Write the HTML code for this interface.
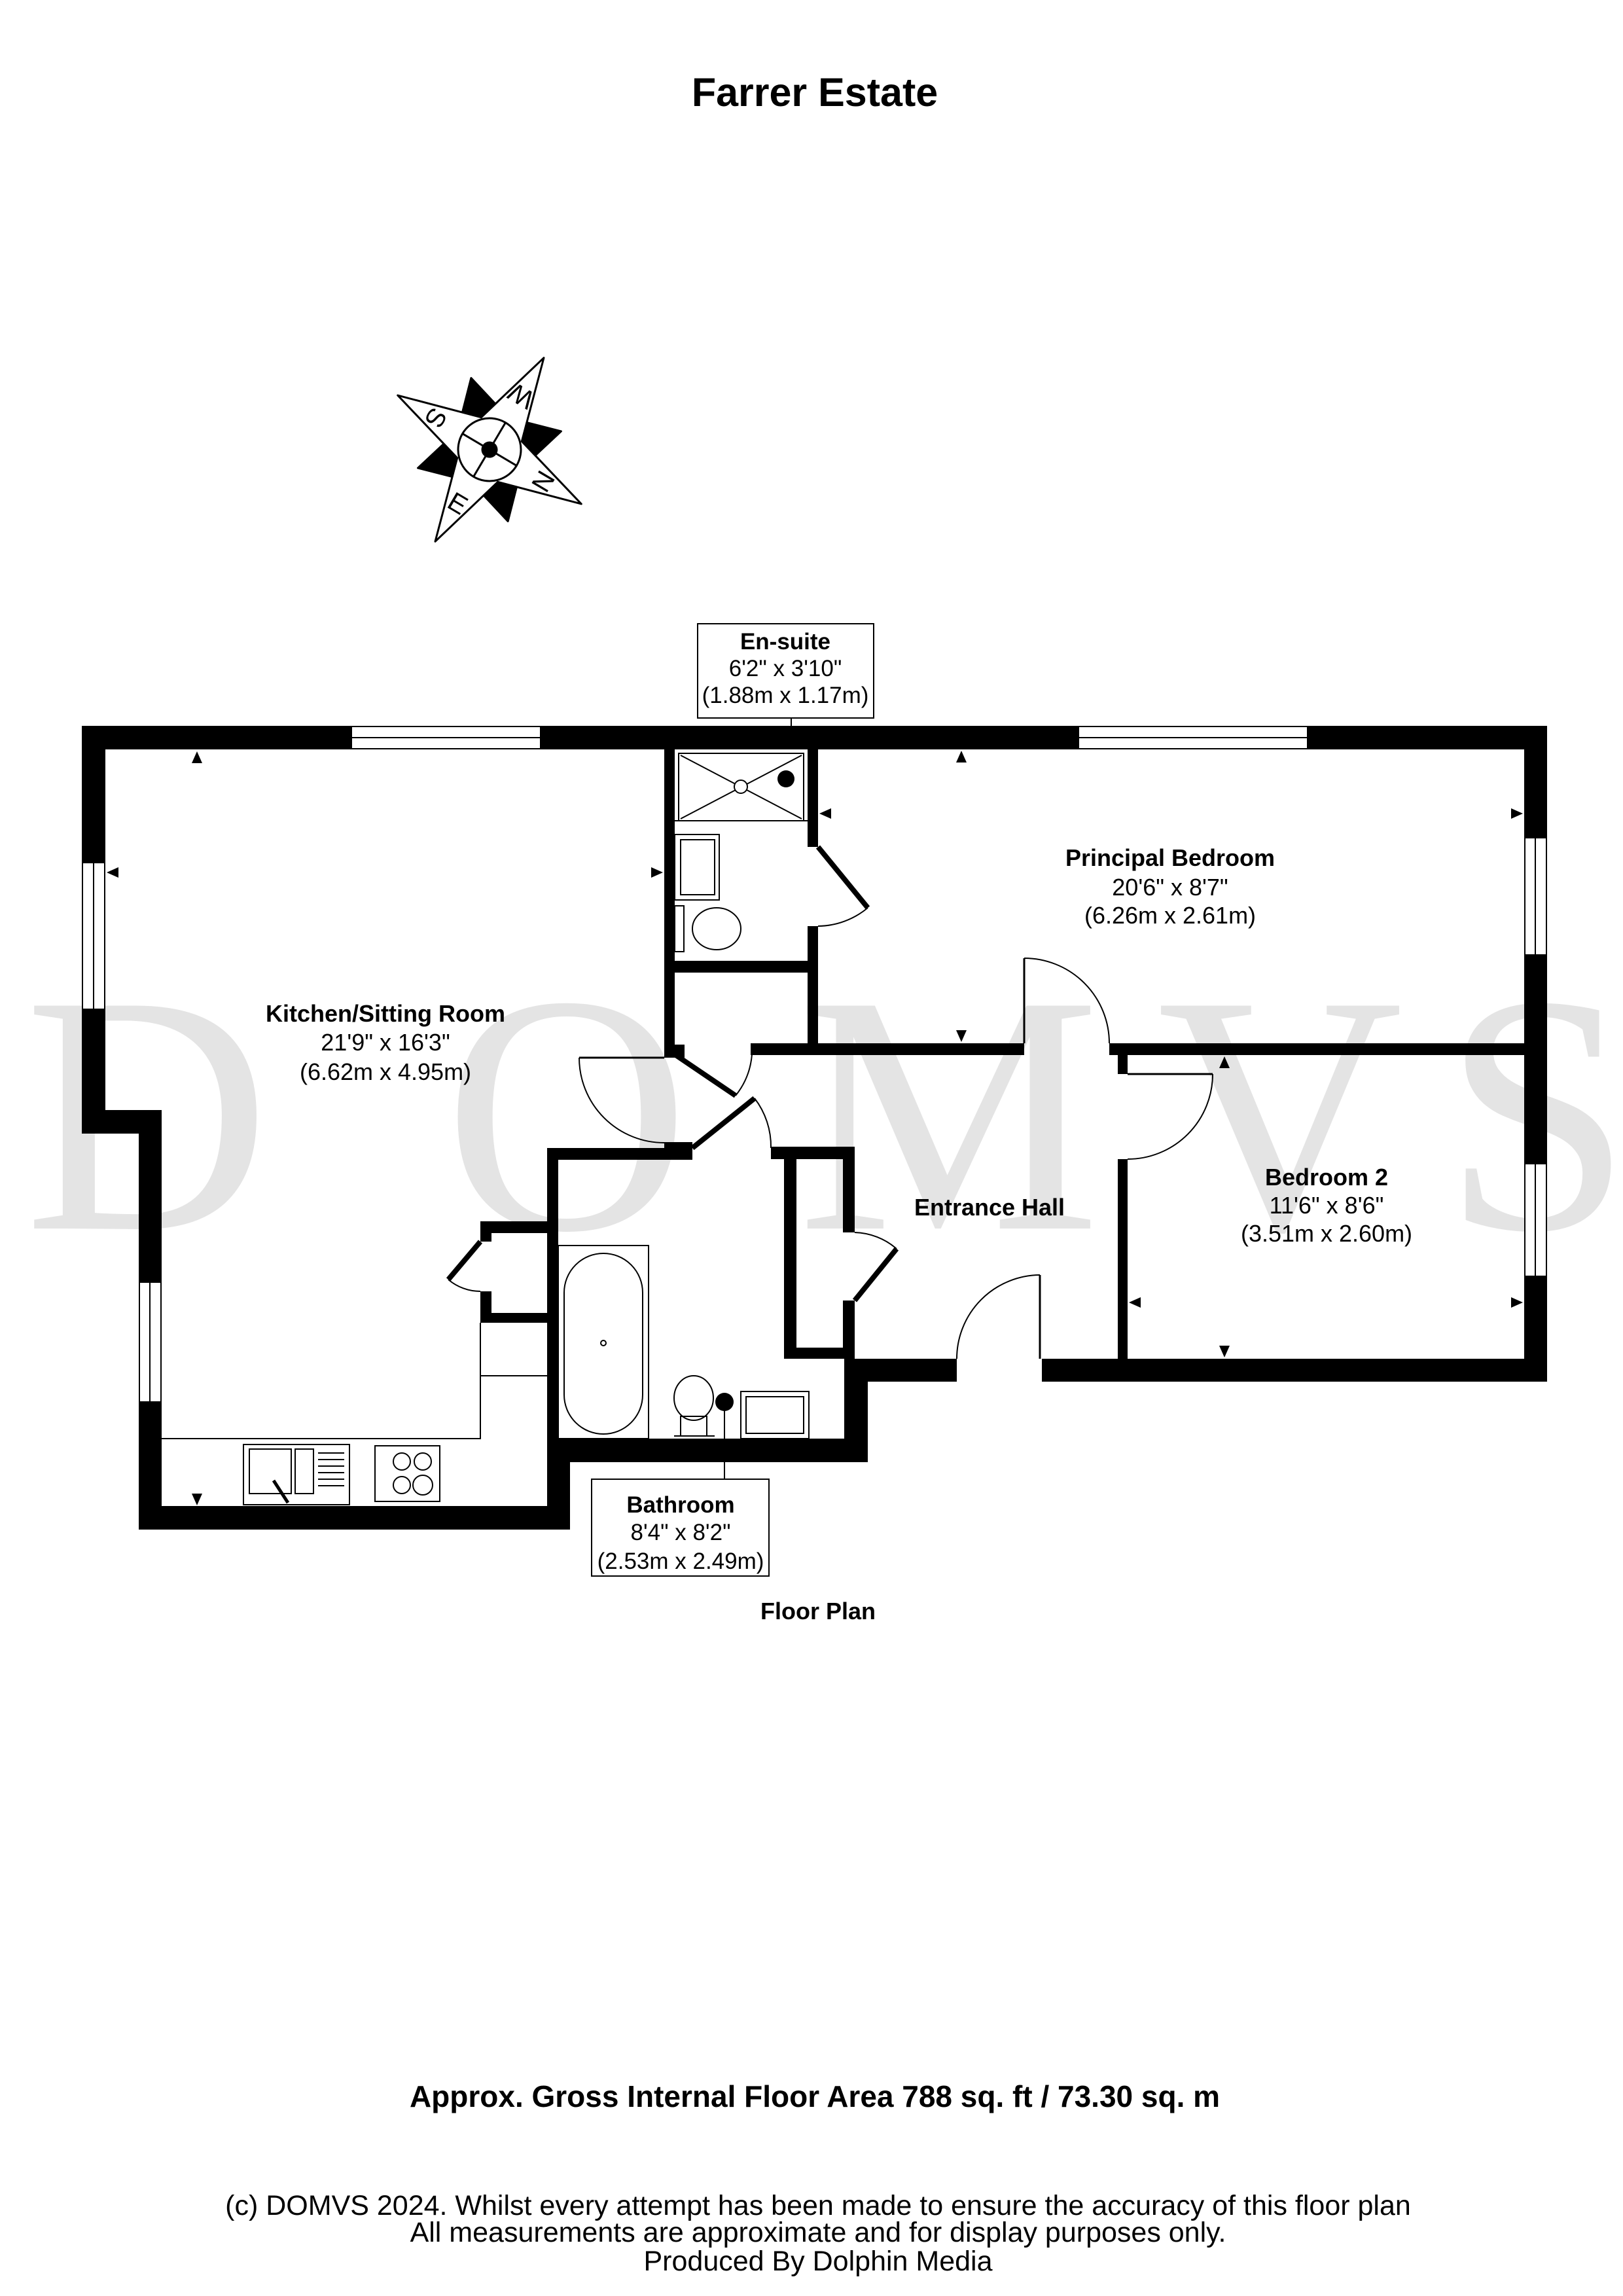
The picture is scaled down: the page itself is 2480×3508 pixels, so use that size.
<!DOCTYPE html>
<html><head><meta charset="utf-8"><style>
html,body{margin:0;padding:0;background:#fff;}
svg{display:block;}
text{font-family:"Liberation Sans",Arial,sans-serif;fill:#000;}
</style></head><body>
<svg width="2480" height="3508" viewBox="0 0 2480 3508" xmlns="http://www.w3.org/2000/svg">
<rect width="2480" height="3508" fill="#fff"/>
<g font-size="520" text-anchor="middle">
<text x="225" y="1877" style="font-family:'Liberation Serif',serif;fill:#e4e4e4">D</text>
<text x="866" y="1877" style="font-family:'Liberation Serif',serif;fill:#e4e4e4">O</text>
<text x="1450" y="1877" style="font-family:'Liberation Serif',serif;fill:#e4e4e4">M</text>
<text x="1956" y="1877" style="font-family:'Liberation Serif',serif;fill:#e4e4e4">V</text>
<text x="2349" y="1877" style="font-family:'Liberation Serif',serif;fill:#e4e4e4">S</text>
</g>

<text x="1245" y="162" font-size="61" font-weight="bold" text-anchor="middle">Farrer Estate</text>

<g transform="translate(748,687) rotate(30.6)" stroke="#000" stroke-width="3" stroke-linejoin="round">
<polygon points="113,0 40,-40 40,40" transform="rotate(45)" fill="#000"/>
<polygon points="113,0 40,-40 40,40" transform="rotate(135)" fill="#000"/>
<polygon points="113,0 40,-40 40,40" transform="rotate(225)" fill="#000"/>
<polygon points="113,0 40,-40 40,40" transform="rotate(315)" fill="#000"/>
<polygon points="163,0 36,36 0,163 -36,36 -163,0 -36,-36 0,-163 36,-36" fill="#fff"/>
<circle r="48" fill="#fff"/>
<line x1="-48" y1="0" x2="48" y2="0"/><line x1="0" y1="-48" x2="0" y2="48"/>
<circle r="11" fill="#000"/>
<g stroke="none">
<text x="95" y="14" transform="rotate(-90 95 0)" text-anchor="middle" style="font-size:40px">N</text>
<text x="-95" y="14" transform="rotate(90 -95 0)" text-anchor="middle" style="font-size:40px">S</text>
<text x="0" y="-81" text-anchor="middle" transform="rotate(180 0 -95)" style="font-size:40px">W</text>
<text x="0" y="109" text-anchor="middle" style="font-size:40px">E</text>
</g>
</g>

<line x1="1209" y1="1097" x2="1209" y2="1109" stroke="#000" stroke-width="2"/>
<rect x="1066" y="953" width="269" height="144" fill="#fff" stroke="#000" stroke-width="2"/>
<text x="1200" y="992" font-size="35" font-weight="bold" text-anchor="middle">En-suite</text>
<text x="1200" y="1033" font-size="35" text-anchor="middle">6'2" x 3'10"</text>
<text x="1200" y="1074" font-size="35" text-anchor="middle">(1.88m x 1.17m)</text>

<g fill="#000">
<rect x="125" y="1109" width="2239" height="36"/>
<rect x="125" y="1109" width="36" height="623"/>
<rect x="125" y="1696" width="122" height="36"/>
<rect x="212" y="1696" width="35" height="641"/>
<rect x="212" y="2301" width="659" height="36"/>
<rect x="836" y="2198" width="35" height="139"/>
<rect x="836" y="2198" width="490" height="36"/>
<rect x="836" y="1754" width="17" height="480"/>
<rect x="836" y="1754" width="222" height="18"/>
<rect x="1015" y="1745" width="43" height="27"/>
<rect x="1178" y="1752" width="128" height="19"/>
<rect x="1198" y="1752" width="19" height="324"/>
<rect x="1198" y="2059" width="108" height="17"/>
<rect x="1288" y="1752" width="18" height="131"/>
<rect x="1288" y="1987" width="18" height="89"/>
<rect x="1290" y="2076" width="36" height="158"/>
<rect x="1290" y="2076" width="172" height="35"/>
<rect x="1592" y="2076" width="772" height="35"/>
<rect x="2329" y="1109" width="35" height="1002"/>
<rect x="1147" y="1594" width="418" height="18"/>
<rect x="1695" y="1594" width="634" height="18"/>
<rect x="1708" y="1771" width="15" height="305"/>
<rect x="1708" y="1594" width="15" height="47"/>
<rect x="1234" y="1109" width="16" height="185"/>
<rect x="1234" y="1415" width="16" height="197"/>
<rect x="1015" y="1109" width="16" height="507"/>
<rect x="1015" y="1596" width="31" height="20"/>
<rect x="1015" y="1468" width="235" height="18"/>
<rect x="734" y="1866" width="102" height="18"/>
<rect x="734" y="1866" width="17" height="31"/>
<rect x="734" y="1973" width="17" height="48"/>
<rect x="734" y="2006" width="102" height="15"/>
</g>
<g fill="#fff" stroke="#000" stroke-width="2">
<rect x="537" y="1110" width="289" height="34"/><line x1="537" y1="1127" x2="826" y2="1127"/>
<rect x="1648" y="1110" width="350" height="34"/><line x1="1648" y1="1127" x2="1998" y2="1127"/>
<rect x="126" y="1318" width="34" height="224"/><line x1="143" y1="1318" x2="143" y2="1542"/>
<rect x="213" y="1959" width="33" height="183"/><line x1="229" y1="1959" x2="229" y2="2142"/>
<rect x="2330" y="1280" width="33" height="179"/><line x1="2346" y1="1280" x2="2346" y2="1459"/>
<rect x="2330" y="1778" width="33" height="172"/><line x1="2346" y1="1778" x2="2346" y2="1950"/>
</g>

<g fill="none" stroke="#000" stroke-width="2">
<path d="M885,1616 A130,130 0 0 0 1015,1746"/>
<path d="M1124,1674 A115,115 0 0 0 1149,1611"/>
<path d="M1153,1678 A121,121 0 0 1 1178,1754"/>
<path d="M1565,1464 A130,130 0 0 1 1695,1594"/>
<path d="M1853,1641 A130,130 0 0 1 1723,1771"/>
<path d="M1589,1948 A128,128 0 0 0 1462,2076"/>
<path d="M1370,1908 A102,102 0 0 0 1306,1883"/>
<path d="M1326,1387 A121,121 0 0 1 1250,1415"/>
<path d="M685,1955 A76,76 0 0 0 734,1973"/>
<line x1="1015" y1="1616" x2="885" y2="1616" stroke-width="3"/>
<line x1="1565" y1="1594" x2="1565" y2="1464" stroke-width="3"/>
<line x1="1723" y1="1641" x2="1853" y2="1641" stroke-width="3"/>
<line x1="1589" y1="2076" x2="1589" y2="1948" stroke-width="3"/>
</g>
<g stroke="#000" stroke-width="8" stroke-linecap="butt">
<line x1="1031" y1="1611" x2="1124" y2="1674"/>
<line x1="1058" y1="1754" x2="1153" y2="1678"/>
<line x1="1306" y1="1987" x2="1370" y2="1908"/>
<line x1="1250" y1="1294" x2="1326" y2="1387"/>
<line x1="734" y1="1897" x2="685" y2="1955"/>
</g>

<g fill="none" stroke="#000" stroke-width="2">
<polyline points="247,2198 734,2198 734,2021"/>
<line x1="734" y1="2102" x2="836" y2="2102"/>
<rect x="372" y="2207" width="162" height="92"/>
<rect x="381" y="2214" width="64" height="68"/>
<rect x="451" y="2214" width="28" height="68"/>
<line x1="486" y1="2220" x2="526" y2="2220"/><line x1="486" y1="2230" x2="526" y2="2230"/>
<line x1="486" y1="2240" x2="526" y2="2240"/><line x1="486" y1="2250" x2="526" y2="2250"/>
<line x1="486" y1="2260" x2="526" y2="2260"/><line x1="486" y1="2270" x2="526" y2="2270"/>
<line x1="418" y1="2262" x2="440" y2="2296" stroke-width="5"/>
<rect x="573" y="2209" width="99" height="85"/>
<circle cx="614" cy="2233" r="13"/><circle cx="646" cy="2233" r="13"/>
<circle cx="614" cy="2269" r="13"/><circle cx="646" cy="2269" r="15"/>
<rect x="853" y="1903" width="138" height="295"/>
<rect x="862" y="1915" width="120" height="276" rx="60"/>
<circle cx="922" cy="2052" r="4"/>
<ellipse cx="1060" cy="2136" rx="30" ry="34"/>
<rect x="1040" y="2164" width="40" height="30"/>
<line x1="1030" y1="2194" x2="1092" y2="2194"/>
<rect x="1132" y="2126" width="104" height="72"/>
<rect x="1140" y="2134" width="88" height="56"/>
<line x1="1107" y1="2155" x2="1107" y2="2198"/>
<rect x="1037" y="1151" width="191" height="103"/>
<line x1="1040" y1="1154" x2="1225" y2="1251"/><line x1="1225" y1="1154" x2="1040" y2="1251"/>
<circle cx="1132" cy="1202" r="10" fill="#fff"/>
<rect x="1031" y="1275" width="68" height="100"/>
<rect x="1040" y="1283" width="52" height="84"/>
<ellipse cx="1095" cy="1419" rx="37" ry="32"/>
<rect x="1031" y="1384" width="14" height="70"/>
<line x1="1031" y1="1254" x2="1234" y2="1254"/>
</g>
<circle cx="1107" cy="2142" r="14" fill="#000"/>
<circle cx="1201" cy="1190" r="13" fill="#000"/>

<g fill="#000">
<polygon points="301,1148 293,1166 309,1166"/>
<polygon points="301,2300 293,2282 309,2282"/>
<polygon points="163,1333 181,1325 181,1341"/>
<polygon points="1013,1333 995,1325 995,1341"/>
<polygon points="1469,1147 1461,1165 1477,1165"/>
<polygon points="1469,1592 1461,1574 1477,1574"/>
<polygon points="1252,1243 1270,1235 1270,1251"/>
<polygon points="2327,1243 2309,1235 2309,1251"/>
<polygon points="1871,1614 1863,1632 1879,1632"/>
<polygon points="1871,2074 1863,2056 1879,2056"/>
<polygon points="1725,1990 1743,1982 1743,1998"/>
<polygon points="2327,1990 2309,1982 2309,1998"/>
</g>

<g font-size="36" text-anchor="middle">
<text x="589" y="1561" font-weight="bold">Kitchen/Sitting Room</text>
<text x="589" y="1605">21'9" x 16'3"</text>
<text x="589" y="1650">(6.62m x 4.95m)</text>
<text x="1788" y="1323" font-weight="bold">Principal Bedroom</text>
<text x="1788" y="1368">20'6" x 8'7"</text>
<text x="1788" y="1411">(6.26m x 2.61m)</text>
<text x="2027" y="1811" font-weight="bold">Bedroom 2</text>
<text x="2027" y="1854">11'6" x 8'6"</text>
<text x="2027" y="1897">(3.51m x 2.60m)</text>
<text x="1512" y="1857" font-weight="bold">Entrance Hall</text>
</g>

<line x1="1107" y1="2234" x2="1107" y2="2260" stroke="#000" stroke-width="2"/>
<rect x="904" y="2260" width="271" height="148" fill="#fff" stroke="#000" stroke-width="2"/>
<g font-size="35" text-anchor="middle">
<text x="1040" y="2311" font-weight="bold">Bathroom</text>
<text x="1040" y="2353">8'4" x 8'2"</text>
<text x="1040" y="2397">(2.53m x 2.49m)</text>
</g>
<text x="1250" y="2474" font-size="36" font-weight="bold" text-anchor="middle">Floor Plan</text>

<text x="1245" y="3219" font-size="46" font-weight="bold" text-anchor="middle">Approx. Gross Internal Floor Area 788 sq. ft / 73.30 sq. m</text>
<g font-size="43" text-anchor="middle">
<text x="1250" y="3384">(c) DOMVS 2024. Whilst every attempt has been made to ensure the accuracy of this floor plan</text>
<text x="1250" y="3425">All measurements are approximate and for display purposes only.</text>
<text x="1250" y="3469">Produced By Dolphin Media</text>
</g>
</svg>
</body></html>
